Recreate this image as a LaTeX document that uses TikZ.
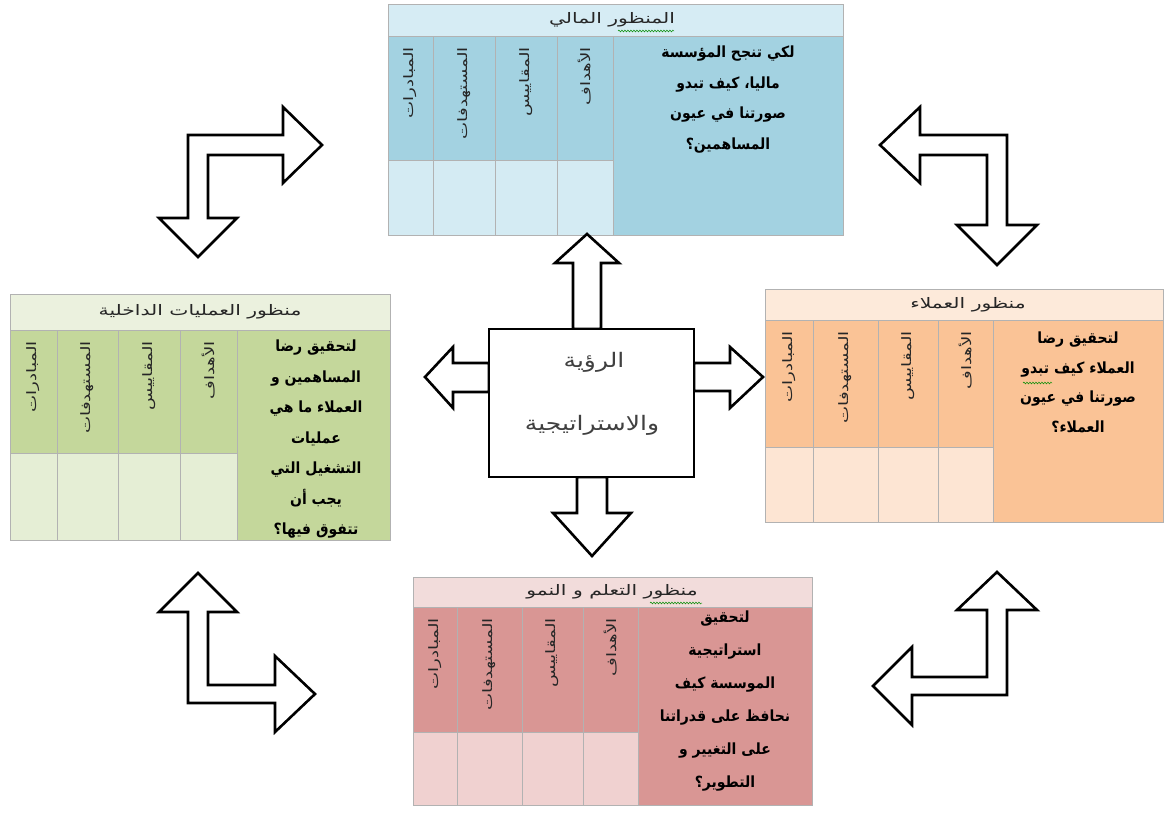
\documentclass[tikz,border=0pt]{standalone}
\usepackage{fontspec}
\usetikzlibrary{decorations.pathmorphing}
\newfontfamily\arabicfont[Script=Arabic]{DejaVu Sans}
\TeXXeTstate=1
\newcommand{\artl}[1]{\scalebox{1.4}[1]{\beginR #1\endR}}
\newcommand{\arth}[1]{\scalebox{1.4}[1]{\beginR #1\endR}}
\newcommand{\artq}[1]{\scalebox{1}[1.1]{\beginR #1\endR}}
\newcommand{\artc}[1]{\scalebox{1.25}[1]{\beginR #1\endR}}
\definecolor{bHd}{RGB}{214,236,244}\definecolor{bCell}{RGB}{163,210,225}\definecolor{bLow}{RGB}{212,235,243}
\definecolor{gHd}{RGB}{235,241,222}\definecolor{gCell}{RGB}{196,215,155}\definecolor{gLow}{RGB}{229,238,213}
\definecolor{oHd}{RGB}{253,234,218}\definecolor{oCell}{RGB}{250,195,150}\definecolor{oLow}{RGB}{253,229,211}
\definecolor{pHd}{RGB}{242,220,219}\definecolor{pCell}{RGB}{217,150,148}\definecolor{pLow}{RGB}{240,209,208}
\tikzset{
  gridline/.style={draw=black!30, line width=0.6pt},
  colhd/.style={rotate=90, anchor=east, inner sep=0pt, text=black!85,
    font=\arabicfont\fontsize{13}{15}\selectfont},
  hdtext/.style={inner sep=0pt, text=black!85, font=\arabicfont\fontsize{14.5}{16}\selectfont},
  qtext/.style={inner sep=0pt, text=black, align=center, anchor=north},
  blockarrow/.style={draw=black, line width=2.6pt, fill=white, line join=miter},
  centerbox/.style={draw=black, line width=2.8pt, fill=white},
  centertext/.style={inner sep=0pt, text=black!75, font=\arabicfont\fontsize{20}{22}\selectfont},
  squiggle/.style={draw=green!55!black, line width=0.5pt, decorate,
    decoration={snake, amplitude=0.9pt, segment length=3pt}}
}
\newcommand{\qfont}[1]{\arabicfont\bfseries\fontsize{14}{#1}\selectfont}
% #1 L, #2 c1, #3 c2, #4 c3, #5 c4, #6 R, #7 T, #8 H, #9 S ; \pB bottom
\newcommand{\perspbox}[9]{%
  \fill[hd] (#1,#7) rectangle (#6,#8);
  \fill[cell] (#1,#8) rectangle (#5,#9);
  \fill[low] (#1,#9) rectangle (#5,\pB);
  \fill[cell] (#5,#8) rectangle (#6,\pB);
  \draw[gridline] (#1,#7) rectangle (#6,\pB);
  \draw[gridline] (#1,#8) -- (#6,#8);
  \draw[gridline] (#1,#9) -- (#5,#9);
  \foreach \c in {#2,#3,#4,#5} \draw[gridline] (\c,#8) -- (\c,\pB);
  \node[colhd] (\pN-c1) at ({(#1+#2)/2},{#8+11}) {\artl{المبادرات}};
  \node[colhd] (\pN-c2) at ({(#2+#3)/2},{#8+11}) {\artl{المستهدفات}};
  \node[colhd] (\pN-c3) at ({(#3+#4)/2},{#8+11}) {\artl{المقاييس}};
  \node[colhd] (\pN-c4) at ({(#4+#5)/2},{#8+11}) {\artl{الأهداف}};
}
\begin{document}
\begin{tikzpicture}[x=1pt,y=-1pt]
\useasboundingbox (0,0) rectangle (1168,814);
\fill[white] (0,0) rectangle (1168,814);

% ---- top: financial
\colorlet{hd}{bHd}\colorlet{cell}{bCell}\colorlet{low}{bLow}\def\pB{235}\def\pN{fin}
\perspbox{388}{433}{495}{557}{613}{843}{4}{36}{160}
\node[hdtext] (fin-title) at (612,20) {\arth{المنظور المالي}};
\draw[squiggle] (618,31) -- (674,31);
\node[qtext, font=\qfont{30.5}] (fin-q) at (728,46)
  {\artq{لكي تنجح المؤسسة}\\\artq{ماليا، كيف تبدو}\\\artq{صورتنا في عيون}\\\artq{المساهمين؟}};

% ---- left: internal processes
\colorlet{hd}{gHd}\colorlet{cell}{gCell}\colorlet{low}{gLow}\def\pB{540}\def\pN{int}
\perspbox{10}{57}{118}{180}{237}{390}{294}{330}{453}
\node[hdtext] (int-title) at (200,312) {\arth{منظور العمليات الداخلية}};
\node[qtext, font=\qfont{30.5}] (int-q) at (316,340)
  {\artq{لتحقيق رضا}\\\artq{المساهمين و}\\\artq{العملاء ما هي}\\\artq{عمليات}\\\artq{التشغيل التي}\\\artq{يجب أن}\\\artq{تتفوق فيها؟}};

% ---- right: customers
\colorlet{hd}{oHd}\colorlet{cell}{oCell}\colorlet{low}{oLow}\def\pB{522}\def\pN{cus}
\perspbox{765}{813}{878}{938}{993}{1163}{289}{320}{447}
\node[hdtext] (cus-title) at (968,305) {\arth{منظور العملاء}};
\node[qtext, font=\qfont{29.5}] (cus-q) at (1078,332)
  {\artq{لتحقيق رضا}\\\artq{العملاء كيف تبدو}\\\artq{صورتنا في عيون}\\\artq{العملاء؟}};
\draw[squiggle] (1023,383) -- (1052,383);

% ---- bottom: learning and growth
\colorlet{hd}{pHd}\colorlet{cell}{pCell}\colorlet{low}{pLow}\def\pB{805}\def\pN{lrn}
\perspbox{413}{457}{522}{583}{638}{812}{577}{607}{732}
\node[hdtext] (lrn-title) at (612,592) {\arth{منظور التعلم و النمو}};
\draw[squiggle] (650,603) -- (702,603);
\node[qtext, font=\qfont{33}] (lrn-q) at (725,611)
  {\artq{لتحقيق}\\\artq{استراتيجية}\\\artq{الموسسة كيف}\\\artq{نحافظ على قدراتنا}\\\artq{على التغيير و}\\\artq{التطوير؟}};

% ---- arrows from the centre
\draw[blockarrow] (573,329) -- (573,263) -- (555,263) -- (587,234) -- (619,263) -- (601,263) -- (601,329) -- cycle;
\draw[blockarrow] (577,477) -- (577,513) -- (553,513) -- (592,556) -- (631,513) -- (607,513) -- (607,477) -- cycle;
\draw[blockarrow] (489,363) -- (453,363) -- (453,347) -- (425,377) -- (453,408) -- (453,392) -- (489,392) -- cycle;
\draw[blockarrow] (694,363) -- (730,363) -- (730,347) -- (763,377) -- (730,408) -- (730,391) -- (694,391) -- cycle;

% ---- centre box
\node[centerbox, minimum width=205pt, minimum height=148pt, inner sep=0pt] (vision) at (591.5,403) {};
\node[centertext] (vision-a) at (594,362) {\artc{الرؤية}};
\node[centertext] (vision-b) at (592,425) {\artc{والاستراتيجية}};

% ---- corner bent arrows
\draw[blockarrow] (188,135) -- (283,135) -- (283,107) -- (322,145) -- (283,183) -- (283,155) -- (208,155) -- (208,218) -- (237,218) -- (198,257) -- (159,218) -- (188,218) -- cycle;
\draw[blockarrow] (1007,135) -- (920,135) -- (920,107) -- (880,145) -- (920,183) -- (920,155) -- (987,155) -- (987,225) -- (957,225) -- (997,265) -- (1037,225) -- (1007,225) -- cycle;
\draw[blockarrow] (198,573) -- (237,612) -- (208,612) -- (208,685) -- (275,685) -- (275,656) -- (315,694) -- (275,732) -- (275,703) -- (188,703) -- (188,612) -- (159,612) -- cycle;
\draw[blockarrow] (997,572) -- (1037,610) -- (1007,610) -- (1007,695) -- (912,695) -- (912,725) -- (873,686) -- (912,647) -- (912,677) -- (987,677) -- (987,610) -- (957,610) -- cycle;
\end{tikzpicture}
\end{document}
